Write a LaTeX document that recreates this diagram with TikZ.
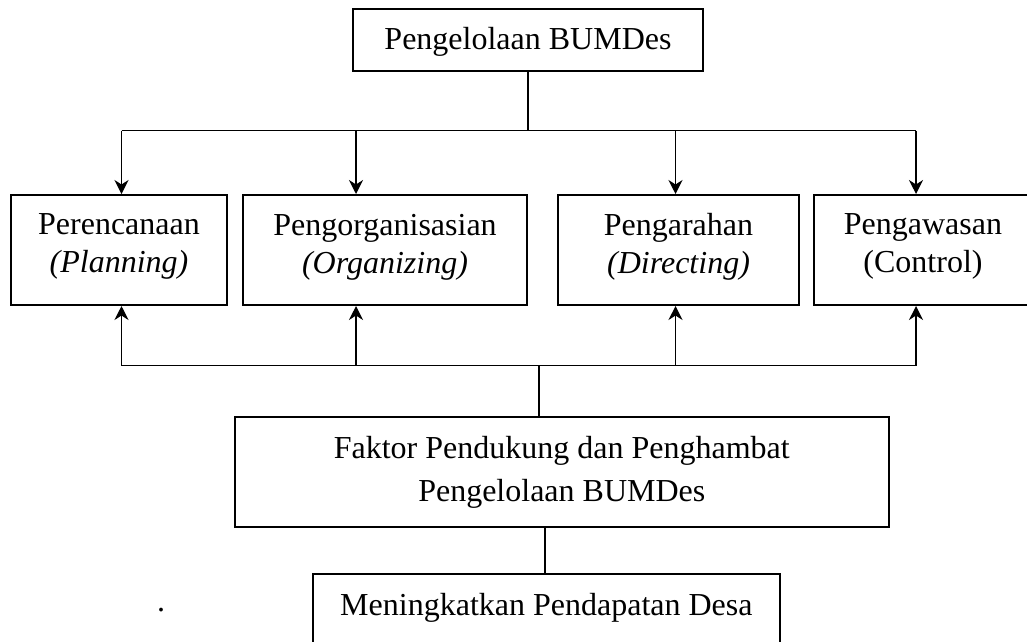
\documentclass[tikz,border=0pt]{standalone}
\usepackage{fontspec}
\setmainfont{Liberation Serif}
\usetikzlibrary{arrows.meta}
\newcommand{\lowpad}{\rule[-13pt]{0pt}{0pt}}
\begin{document}
\begin{tikzpicture}[x=1pt,y=-1pt,
  box/.style={draw, line width=2pt, inner sep=0pt, align=center, font=\fontsize{32}{38}\selectfont},
  txt/.style={inner sep=0pt, align=center, font=\fontsize{32}{38}\selectfont},
  conn/.style={line width=1.4pt},
  arr/.style={conn, -{Stealth[length=14pt,width=14pt,inset=4.5pt]}}]
\useasboundingbox (0,0) rectangle (1027,641);

% boxes
\node[box, minimum width=350pt, minimum height=62pt] (top) at (528,40) {\rule{0pt}{25pt}Pengelolaan BUMDes};
\node[box, minimum width=216pt, minimum height=110pt] (p1) at (119,250) {Perencanaan\\\textit{(Planning)}\lowpad};
\node[box, minimum width=284pt, minimum height=110pt] (p2) at (385,250) {Pengorganisasian\\\textit{(Organizing)}\lowpad};
\node[box, minimum width=241pt, minimum height=110pt] (p3) at (678.5,250) {Pengarahan\\\textit{(Directing)}\lowpad};
\node[box, minimum width=218pt, minimum height=110pt] (p4) at (923,250) {Pengawasan\\(Control)\lowpad};
\node[box, minimum width=654pt, minimum height=110pt, font=\fontsize{32}{43}\selectfont] (fak) at (561.8,472) {Faktor Pendukung dan Penghambat\\Pengelolaan BUMDes};
\node[box, minimum width=467pt, minimum height=100pt, anchor=north] (mbox) at (546.4,573) {};
\node[txt] (mtext) at (546.4,608) {Meningkatkan Pendapatan Desa};
\node[txt] (dot) at (161,610) {.};

% top connectors
\coordinate (t1) at (121.5,130.7);
\coordinate (t2) at (356,130.7);
\coordinate (t3) at (675.5,130.7);
\coordinate (t4) at (916,130.7);
\draw[conn] (top.south) -- (top.south |- t1);
\draw[conn] (t1) -- (t4);
\draw[arr] (t1) -- (t1 |- p1.north);
\draw[arr] (t2) -- (t2 |- p2.north);
\draw[arr] (t3) -- (t3 |- p3.north);
\draw[arr] (t4) -- (t4 |- p4.north);

% bottom connectors
\coordinate (b0) at (539,365.7);
\coordinate (b1) at (121.5,365.7);
\coordinate (b2) at (356,365.7);
\coordinate (b3) at (675.5,365.7);
\coordinate (b4) at (916,365.7);
\draw[conn] (fak.north -| b0) -- (b0);
\draw[conn] (b1) -- (b4);
\draw[arr] (b1) -- (b1 |- p1.south);
\draw[arr] (b2) -- (b2 |- p2.south);
\draw[arr] (b3) -- (b3 |- p3.south);
\draw[arr] (b4) -- (b4 |- p4.south);

\coordinate (c0) at (545,0);
\draw[conn] (c0 |- fak.south) -- (c0 |- mbox.north);
\end{tikzpicture}
\end{document}
